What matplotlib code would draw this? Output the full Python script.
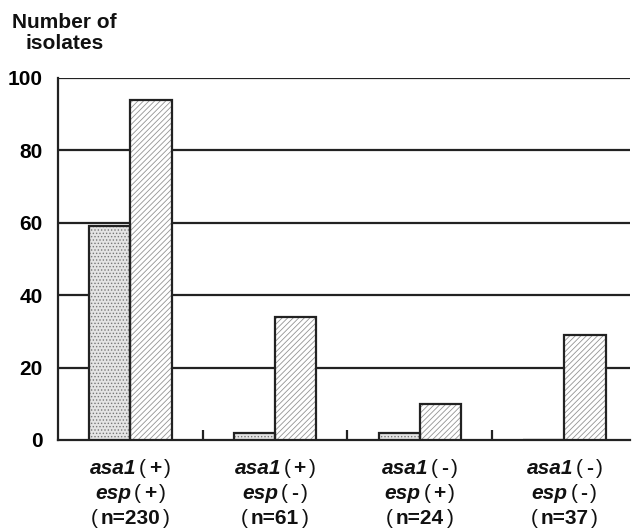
import matplotlib
matplotlib.use("Agg")
import matplotlib.pyplot as plt
from matplotlib.offsetbox import TextArea, HPacker, AnnotationBbox
import numpy as np

plt.rcParams['font.family'] = ['Liberation Sans', 'DejaVu Sans']
plt.rcParams['hatch.linewidth'] = 0.6

genes1 = ["asa1", "asa1", "asa1", "asa1"]
signs1 = ["+", "+", "-", "-"]
genes2 = ["esp", "esp", "esp", "esp"]
signs2 = ["+", "-", "+", "-"]
counts = ["n=230", "n=61", "n=24", "n=37"]
series_a = [59, 2, 2, 0]      # stippled bars
series_b = [94, 34, 10, 29]   # hatched bars
yticks = [0, 20, 40, 60, 80, 100]

FS = 15
EDGE = '#222222'

fig = plt.figure(figsize=(6.33, 5.30), dpi=100)
ax = fig.add_axes([0.0916, 0.17, 0.903, 0.683])

x = np.arange(len(genes1))
w = 0.285
# fills with hatch (hatch colour follows edgecolor)
ax.bar(x - w / 2, series_a, w, facecolor='#e4e4e4', edgecolor='#777777',
       linewidth=0, hatch='.....', zorder=3)
ax.bar(x + w / 2, series_b, w, facecolor='white', edgecolor='#939393',
       linewidth=0, hatch='//////', zorder=3)
# outlines
ax.bar(x - w / 2, series_a, w, facecolor='none', edgecolor=EDGE,
       linewidth=1.6, zorder=4)
ax.bar(x + w / 2, series_b, w, facecolor='none', edgecolor=EDGE,
       linewidth=1.6, zorder=4)

ax.set_ylim(0, 100)
ax.set_xlim(-0.5, 3.45)
ax.set_yticks(yticks)
ax.set_yticklabels([str(v) for v in yticks], fontsize=FS, fontweight='bold')
ax.tick_params(axis='y', length=0, pad=11)
for v in yticks[1:]:
    ax.axhline(v, color=EDGE, linewidth=1.6, zorder=1)

ax.set_xticks(x)
ax.set_xticklabels([])
ax.tick_params(axis='x', which='major', length=0)
ax.set_xticks([0.5, 1.5, 2.5], minor=True)
ax.tick_params(axis='x', which='minor', direction='in', length=7, width=1.6, color=EDGE)

for s in ['top', 'right']:
    ax.spines[s].set_visible(False)
for s in ['left', 'bottom']:
    ax.spines[s].set_linewidth(1.6)
    ax.spines[s].set_color(EDGE)

bold = dict(fontsize=FS, fontweight='bold', color='#111111')
ital = dict(fontsize=FS, fontweight='bold', fontstyle='italic', color='#111111')
par = dict(fontsize=FS, fontweight='normal', color='#111111')

def line(parts):
    kids = [TextArea(t, textprops=p) for t, p in parts]
    return HPacker(children=kids, pad=0, sep=2, align='baseline')

trans = ax.get_xaxis_transform()
for i in range(len(x)):
    rows = [
        line([(genes1[i], ital), ("(", par), (signs1[i], bold), (")", par)]),
        line([(genes2[i], ital), ("(", par), (signs2[i], bold), (")", par)]),
        line([("(", par), (counts[i], bold), (")", par)]),
    ]
    for k, r in enumerate(rows):
        ab = AnnotationBbox(r, (x[i], 0), xycoords=trans,
                            xybox=(0, -20.5 - 18.2 * k), boxcoords='offset points',
                            box_alignment=(0.5, 0.5), frameon=False, pad=0,
                            annotation_clip=False)
        ax.add_artist(ab)

fig.text(0.102, 0.975, "Number of\nisolates", fontsize=FS, fontweight='bold',
         ha='center', va='top', multialignment='center', linespacing=1.1,
         color='#111111')

fig.savefig("out.png", dpi=100)
